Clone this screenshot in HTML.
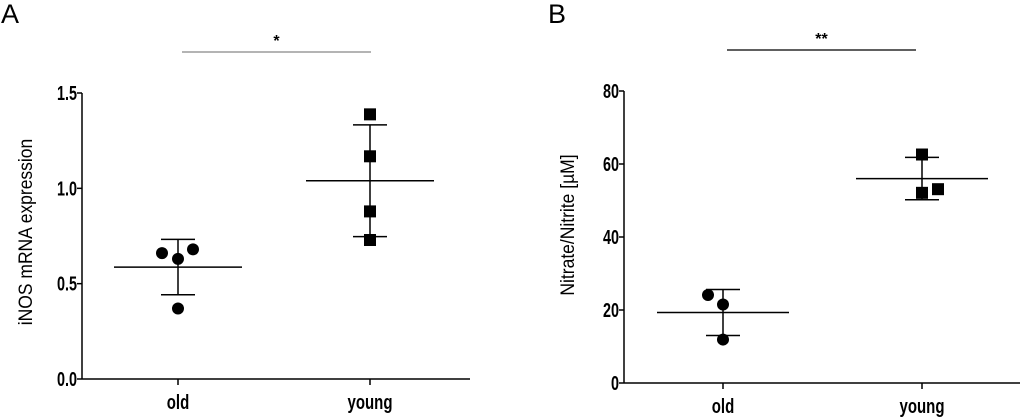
<!DOCTYPE html>
<html><head><meta charset="utf-8"><style>
body{margin:0;background:#fff}
svg{display:block;font-family:"Liberation Sans",sans-serif}
.tk{font-size:20px;font-weight:bold}
</style></head><body>
<svg id="c" width="1024" height="420"></svg>
<script>
const categories=["old","young"];
const aTicks=[0,0.5,1.0,1.5];
const aTickLabels=["0.0","0.5","1.0","1.5"];
const aOld=[0.66,0.63,0.68,0.37];
const aYoung=[1.388,1.168,0.879,0.729];
const aMean=[0.587,1.04];
const aSd=[0.145,0.293];
const bTicks=[0,20,40,60,80];
const bTickLabels=["0","20","40","60","80"];
const bOld=[24.1,21.5,11.9];
const bYoung=[62.6,52.1,53.1];
const bMean=[19.3,56.0];
const bSd=[6.3,5.8];

const svg=document.getElementById('c');
const NS='http://www.w3.org/2000/svg';
function mk(t,a,p){const e=document.createElementNS(NS,t);for(const k in a)e.setAttribute(k,a[k]);(p||svg).appendChild(e);return e;}

function panel(o){
  const g=mk('g',{});
  
  
  const y=v=>o.y0-(v-o.min)/(o.max-o.min)*(o.y0-o.y1);
  const xs=o.xs;
  let t=mk('text',{x:o.lx,y:23,'font-size':27},g);t.textContent=o.letter;
  
  let ax=mk('line',{x1:o.ax,y1:o.y1,x2:o.ax,y2:o.y0,stroke:'#000','stroke-width':1.5},g);
  
  let bx=mk('line',{x1:o.ax,y1:o.y0,x2:o.xend,y2:o.y0,stroke:'#000','stroke-width':1.5},g);
  
  o.ticks.forEach((v,i)=>{
    mk('line',{x1:o.ax-5,y1:y(v),x2:o.ax,y2:y(v),stroke:'#000','stroke-width':1.5},g);
    let tt=mk('text',{x:0,y:0,class:'tk','text-anchor':'end',transform:`translate(${o.ax-5},${y(v)+7}) scale(0.72,1)`},g);
    tt.textContent=o.tickLabels[i];
    
  });
  categories.forEach((c,i)=>{
    mk('line',{x1:xs[i],y1:o.y0,x2:xs[i],y2:o.y0+6,stroke:'#000','stroke-width':1.5},g);
    let tt=mk('text',{x:0,y:0,class:'tk','text-anchor':'middle',transform:`translate(${xs[i]},${o.y0+30}) scale(0.75,1)`},g);
    tt.textContent=c;
    
  });
  let yt=mk('text',{x:0,y:0,'font-size':19,'text-anchor':'middle',transform:`translate(${o.ytx},${o.ytc}) rotate(-90) scale(0.92,1)`},g);
  yt.textContent=o.ytitle;
  [0,1].forEach(i=>{
    const m=o.mean[i],s=o.sd[i],x=xs[i];
    let ml=mk('line',{x1:x-o.mw,y1:y(m),x2:x+o.mw,y2:y(m),stroke:'#000','stroke-width':1.5},g);
    
    mk('line',{x1:x,y1:y(m+s),x2:x,y2:y(m-s),stroke:'#000','stroke-width':1.5},g);
    mk('line',{x1:x-17,y1:y(m+s),x2:x+17,y2:y(m+s),stroke:'#000','stroke-width':1.5},g);
    mk('line',{x1:x-17,y1:y(m-s),x2:x+17,y2:y(m-s),stroke:'#000','stroke-width':1.5},g);
  });
  o.old.forEach((v,i)=>{
    let p=mk('circle',{cx:xs[0]+o.oldDx[i],cy:y(v),r:6,fill:'#000'},g);
    
  });
  o.young.forEach((v,i)=>{
    let p=mk('rect',{x:xs[1]+o.youngDx[i]-6,y:y(v)-6,width:12,height:12,fill:'#000'},g);
    
  });
  let sl=mk('line',{x1:o.sig[0],y1:o.sig[2],x2:o.sig[1],y2:o.sig[2],stroke:o.sigc,'stroke-width':1.3},g);
  
  let st=mk('text',{x:(o.sig[0]+o.sig[1])/2,y:o.sig[2]-6,'font-size':16,'font-weight':'bold','text-anchor':'middle'},g);
  st.textContent=o.star;
}
panel({name:'panel-a',letter:'A',lx:1,ax:82,xend:470,y0:379,y1:93,min:0,max:1.5,xs:[178,370],
  ticks:aTicks,tickLabels:aTickLabels,ytx:32,ytc:232,ytitle:'iNOS mRNA expression',mean:aMean,sd:aSd,mw:64,
  old:aOld,oldDx:[-16,0,15,0],young:aYoung,youngDx:[0,0,0,0],sig:[182,371,52],sigc:'#888',star:'*'});
panel({name:'panel-b',letter:'B',lx:548,ax:624,xend:1020,y0:383,y1:91,min:0,max:80,xs:[723,922],
  ticks:bTicks,tickLabels:bTickLabels,ytx:574,ytc:225,ytitle:'Nitrate/Nitrite [µM]',mean:bMean,sd:bSd,mw:66,
  old:bOld,oldDx:[-15,0,0],young:bYoung,youngDx:[0,0,16],sig:[727,916,50],sigc:'#000',star:'**'});
</script>
</body></html>
